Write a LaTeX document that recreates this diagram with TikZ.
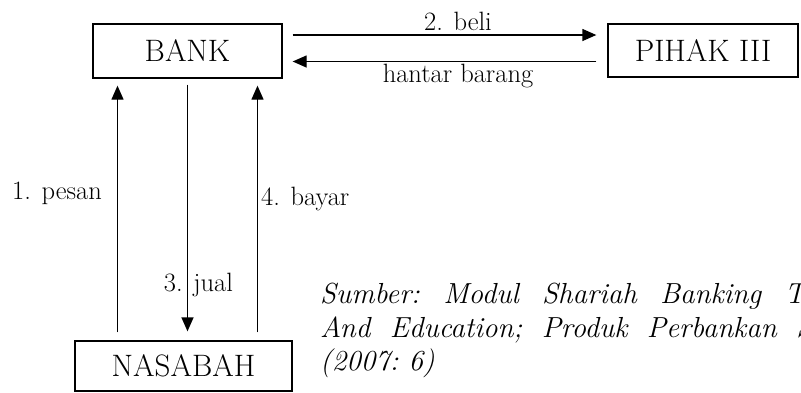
\documentclass[tikz,border=0pt]{standalone}
\usepackage{tikz}
\usetikzlibrary{positioning}
\usetikzlibrary{arrows.meta}
\usetikzlibrary{calc}

\begin{document}
\begin{tikzpicture}[x=1pt,y=-1pt]

\tikzset{box/.style = {draw, line width=1.3pt, inner sep=0pt, font=\fontsize{31}{35}\selectfont}}
\tikzset{edge/.style = {-{Triangle[length=14pt,width=12pt]}, line width=1.3pt}}
\tikzset{lbl/.style = {font=\fontsize{26.5}{30}\selectfont}}

\clip (0,0) rectangle (801,392);

%vertex
\node[box, minimum width=189pt, minimum height=54pt] (bank) at (187.5,51) {BANK};
\node[box, minimum width=190pt, minimum height=53pt] (pihak) at (703,50.5) {PIHAK III};
\node[box, minimum width=217pt, minimum height=50pt] (nasabah) at (183.5,366) {NASABAH};

%horizontal edge
\draw[edge, shorten <=10pt, shorten >=11pt] ([yshift=16pt]bank.east) to node[lbl, above, inner sep=4pt, pos=0.54] {2. beli} ([yshift=16pt]bank.east -| pihak.west);
\draw[edge, shorten <=11pt, shorten >=10pt] ([yshift=-11pt]pihak.west) to node[lbl, below, inner sep=2pt, pos=0.46] {hantar barang} ([yshift=-11pt]pihak.west -| bank.east);

%vertical edge
\draw[edge, shorten <=8pt, shorten >=7pt] ([xshift=-70pt]bank.south |- nasabah.north) to node[lbl, left, inner sep=15pt, pos=0.56] {1. pesan} ([xshift=-70pt]bank.south);
\draw[edge, shorten <=6pt, shorten >=9pt] (bank.south) to node[lbl, xshift=11pt, pos=0.79] {3. jual} (bank.south |- nasabah.north);
\draw[edge, shorten <=8pt, shorten >=7pt] ([xshift=70pt]bank.south |- nasabah.north) to node[lbl, right, inner sep=3pt, pos=0.54] {4. bayar} ([xshift=70pt]bank.south);

%source
\node[anchor=north west, inner sep=0pt, text width=570pt, align=justify,
      font=\fontsize{29}{33.5}\selectfont\itshape\frenchspacing] (sumber) at (320,283)
  {Sumber: Modul Shariah Banking Training\linebreak And Education; Produk Perbankan Syariah\linebreak (2007: 6)};

\end{tikzpicture}
\end{document}
